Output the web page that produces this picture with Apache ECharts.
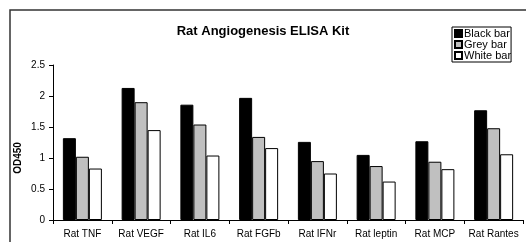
<!DOCTYPE html>
<html>
<head>
<meta charset="utf-8">
<script src="https://cdn.jsdelivr.net/npm/echarts@6/dist/echarts.min.js"></script>
<style>
  html, body { margin: 0; padding: 0; background: #fff; }
  #chart { width: 526px; height: 242px; }
</style>
</head>
<body>
<div id="chart"></div>
<script>
// data
const categories = ['Rat TNF', 'Rat VEGF', 'Rat IL6', 'Rat FGFb', 'Rat IFNr', 'Rat leptin', 'Rat MCP', 'Rat Rantes'];
const blackBar = [1.32, 2.13, 1.86, 1.97, 1.26, 1.05, 1.27, 1.77];
const greyBar = [1.02, 1.90, 1.54, 1.34, 0.95, 0.87, 0.94, 1.48];
const whiteBar = [0.83, 1.45, 1.04, 1.16, 0.75, 0.62, 0.82, 1.06];
const yTicks = ['0', '0.5', '1', '1.5', '2', '2.5'];

const font = 'Liberation Sans, Arial, sans-serif';

function bar(name, color, data) {
  return {
    name: name,
    type: 'bar',
    data: data,
    barWidth: 13,
    barGap: '0%',
    itemStyle: { color: color, borderColor: '#000', borderWidth: 1 }
  };
}

const chart = echarts.init(document.getElementById('chart'));
chart.setOption({
  animation: false,
  backgroundColor: '#fff',
  textStyle: { fontFamily: font },
  title: {
    text: 'Rat Angiogenesis ELISA Kit',
    left: 'center',
    top: 20,
    textStyle: { fontSize: 13, fontWeight: 'bold', color: '#000', fontFamily: font }
  },
  legend: {
    orient: 'vertical',
    left: 452,
    top: 27,
    itemWidth: 7,
    itemHeight: 7,
    itemGap: 0,
    icon: 'rect',
    padding: [1, 0, 1, 2],
    borderColor: '#000',
    borderWidth: 1,
    backgroundColor: '#fff',
    textStyle: { fontSize: 11, lineHeight: 11, color: '#000', fontFamily: font, padding: [0, 0, 0, -3] },
    data: ['Black bar', 'Grey bar', 'White bar']
  },
  graphic: [{
    type: 'rect',
    shape: { x: 10, y: 10, width: 600, height: 400 },
    style: { fill: null, stroke: '#333', lineWidth: 1.5 },
    silent: true
  }, {
    type: 'text',
    x: 18,
    y: 158,
    rotation: Math.PI / 2,
    style: { text: 'OD450', font: 'bold 10px ' + font, fill: '#000', align: 'center', verticalAlign: 'middle' }
  }],
  grid: { left: 53, right: 3, top: 65, bottom: 22, outerBoundsMode: 'none' },
  xAxis: {
    type: 'category',
    data: categories,
    axisLine: { lineStyle: { color: '#000', width: 1 } },
    axisTick: { show: true, length: 4, lineStyle: { color: '#000' } },
    axisLabel: { fontSize: 10, color: '#000', margin: 9, interval: 0, fontFamily: font }
  },
  yAxis: {
    type: 'value',
    min: 0,
    max: 2.5,
    interval: 0.5,
    splitLine: { show: false },
    axisLine: { show: true, lineStyle: { color: '#000', width: 1 } },
    axisTick: { show: true, length: 4, lineStyle: { color: '#000' } },
    axisLabel: {
      fontSize: 10, color: '#000', margin: 8, fontFamily: font,
      formatter: function (v) { return yTicks[Math.round(v / 0.5)]; }
    }
  },
  series: [
    bar('Black bar', '#000', blackBar),
    bar('Grey bar', '#c0c0c0', greyBar),
    bar('White bar', '#fff', whiteBar)
  ]
});
</script>
</body>
</html>
